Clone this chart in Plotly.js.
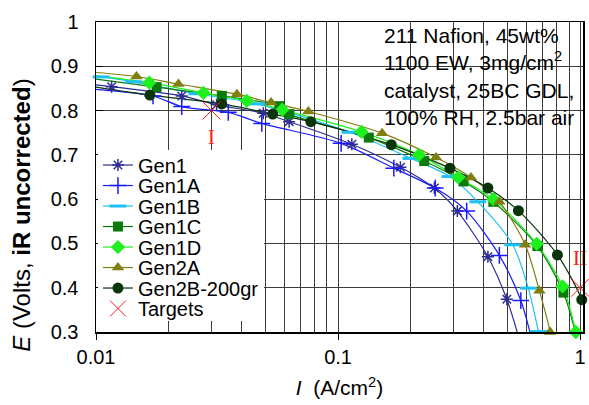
<!DOCTYPE html>
<html>
<head>
<meta charset="utf-8">
<script src="https://cdn.plot.ly/plotly-3.0.1.min.js"></script>
<style>html,body{margin:0;padding:0;background:#fff;}#chart{width:589px;height:405px;}</style>
</head>
<body>
<div id="chart"></div>
<script>
// ---- data (I in A/cm2, E in volts) ----
var seriesNames = ["Gen1", "Gen1A", "Gen1B", "Gen1C", "Gen1D", "Gen2A", "Gen2B-200gr"];

var gen1I  = [0.0116, 0.0226, 0.0315, 0.0491, 0.0628, 0.114, 0.181, 0.250, 0.311, 0.416, 0.498];
var gen1E  = [0.854, 0.833, 0.813, 0.794, 0.775, 0.724, 0.672, 0.625, 0.573, 0.470, 0.374];

var gen1AI = [0.0172, 0.0226, 0.0352, 0.0484, 0.103, 0.170, 0.252, 0.340, 0.464, 0.569];
var gen1AE = [0.833, 0.809, 0.796, 0.771, 0.726, 0.670, 0.625, 0.573, 0.473, 0.371];

var gen1BI = [0.0105, 0.0143, 0.0261, 0.0463, 0.112, 0.200, 0.290, 0.378, 0.527, 0.611, 0.673];
var gen1BE = [0.876, 0.865, 0.838, 0.815, 0.751, 0.692, 0.651, 0.594, 0.497, 0.399, 0.301];

var gen1CI = [0.0178, 0.0331, 0.0572, 0.0629, 0.134, 0.227, 0.330, 0.438, 0.666, 0.853];
var gen1CE = [0.853, 0.833, 0.810, 0.792, 0.739, 0.686, 0.640, 0.594, 0.494, 0.389];

var gen1DI = [0.0166, 0.0278, 0.0420, 0.0588, 0.125, 0.216, 0.314, 0.438, 0.662, 0.846, 0.960];
var gen1DE = [0.863, 0.840, 0.822, 0.802, 0.752, 0.700, 0.649, 0.600, 0.499, 0.403, 0.300];

var gen2AI = [0.0147, 0.0219, 0.0382, 0.0529, 0.0754, 0.152, 0.254, 0.354, 0.464, 0.593, 0.679, 0.752];
var gen2AE = [0.877, 0.860, 0.837, 0.818, 0.798, 0.749, 0.694, 0.649, 0.594, 0.497, 0.393, 0.300];

var gen2BI = [0.0167, 0.0331, 0.0537, 0.0772, 0.166, 0.290, 0.416, 0.556, 0.806, 1.016];
var gen2BE = [0.835, 0.815, 0.792, 0.775, 0.723, 0.670, 0.625, 0.574, 0.474, 0.373];

// fitted-curve ends: value at the left edge (I = 0.01) and the low end
var curveStartI = 0.01;
var curveStartE = [0.858, 0.848, 0.877, 0.871, 0.879, 0.886, 0.853];
var curveEndI   = [0.57, 0.64, 0.70, 0.975, 0.985, 0.77, 1.10];
var curveEndE   = [0.27, 0.27, 0.26, 0.28, 0.26, 0.26, 0.30];

var targetI = [0.03, 1.0];
var targetE = [0.8, 0.4];
var targetLabels = ["I", "II"];

var xTickVals = [0.01, 0.1, 1];
var xTickText = ["0.01", "0.1", "1"];

// ---- styles ----
var dataI = [gen1I, gen1AI, gen1BI, gen1CI, gen1DI, gen2AI, gen2BI];
var dataE = [gen1E, gen1AE, gen1BE, gen1CE, gen1DE, gen2AE, gen2BE];
var styles = [
  {color: "#2E2E91", symbol: "asterisk-open", size: 10, lw: 1.5},
  {color: "#1A1AFF", symbol: "cross-thin-open", size: 12, lw: 1.5},
  {color: "#1EC0F5", symbol: "line-ew-open", size: 12, lw: 3},
  {color: "#0A7A0A", symbol: "square", size: 10, lw: 0},
  {color: "#1EF01E", symbol: "diamond", size: 11, lw: 0},
  {color: "#7F7F10", symbol: "triangle-up", size: 11, lw: 0},
  {color: "#0A340A", symbol: "circle", size: 11, lw: 0}
];

var traces = [];
// fitted curves
for (var i = 0; i < seriesNames.length; i++) {
  traces.push({
    type: "scatter", mode: "lines",
    x: [curveStartI].concat(dataI[i], [curveEndI[i]]),
    y: [curveStartE[i]].concat(dataE[i], [curveEndE[i]]),
    line: {color: styles[i].color, width: 1.2, shape: "spline", smoothing: 0.8},
    showlegend: false, hoverinfo: "skip"
  });
}
// data markers
for (var j = 0; j < seriesNames.length; j++) {
  var st = styles[j];
  traces.push({
    type: "scatter", mode: "markers",
    x: dataI[j], y: dataE[j], cliponaxis: false,
    marker: {symbol: st.symbol, size: st.size, color: st.color,
             line: {color: st.color, width: st.lw}},
    showlegend: false
  });
}
// legend entries
for (var k = 0; k < seriesNames.length; k++) {
  var s2 = styles[k];
  traces.push({
    type: "scatter", mode: "lines+markers", name: seriesNames[k],
    x: [null], y: [null],
    line: {color: s2.color, width: 1.2},
    marker: {symbol: s2.symbol, size: s2.size, color: s2.color,
             line: {color: s2.color, width: s2.lw}}
  });
}
// targets
traces.push({
  type: "scatter", mode: "markers", name: "Targets",
  x: targetI, y: targetE, cliponaxis: false,
  marker: {symbol: "x-thin-open", size: 18, color: "#FF1A1A", line: {color: "#FF1A1A", width: 1}}
});
traces.push({
  type: "scatter", mode: "markers+text", showlegend: false,
  x: targetI, y: targetE, text: targetLabels, cliponaxis: false,
  textposition: ["bottom center", "top center"],
  textfont: {family: "Liberation Serif, Times New Roman, serif", size: 22, color: "#FF1A1A"},
  marker: {size: 26, color: "rgba(0,0,0,0)"}
});

var gridC = "#3c3c3c";
var layout = {
  width: 589, height: 405,
  margin: {l: 96, r: 6, t: 22, b: 73},
  paper_bgcolor: "#fff", plot_bgcolor: "#fff",
  font: {family: "Liberation Sans, Arial, sans-serif", size: 20, color: "#000"},
  showlegend: true,
  legend: {x: 0.004, xanchor: "left", y: 0.587, yanchor: "top",
           bgcolor: "#fff", borderwidth: 0,
           font: {size: 20, color: "#000"}, itemwidth: 30},
  xaxis: {
    type: "log", range: [-2, 0.012],
    tickmode: "array", tickvals: xTickVals, ticktext: xTickText,
    ticks: "outside", ticklen: 6, tickcolor: "#000", tickwidth: 1,
    showline: true, linecolor: "#000", linewidth: 1.5, mirror: true,
    showgrid: true, gridcolor: gridC, gridwidth: 1, zeroline: false,
    minor: {dtick: "D1", showgrid: true, gridcolor: gridC, gridwidth: 1, ticks: ""},
    tickfont: {size: 20, color: "#000"}, ticklabelstandoff: 0,
    title: {text: "<i>I</i>\u00a0\u00a0(A/cm<sup>2</sup>)", font: {size: 21, color: "#000"}, standoff: 14}
  },
  yaxis: {
    range: [0.3, 1], tick0: 0.3, dtick: 0.1,
    ticks: "inside", ticklen: 7, tickcolor: "#000", tickwidth: 1,
    showline: true, linecolor: "#000", linewidth: 1.5, mirror: true,
    showgrid: true, gridcolor: gridC, gridwidth: 1, zeroline: false,
    tickfont: {size: 20, color: "#000"}, ticklabelstandoff: 12
  },
  shapes: [{
    type: "rect", xref: "paper", yref: "paper", x0: 0.589, x1: 1, y0: 0.619, y1: 1,
    fillcolor: "#fff", line: {width: 0}, layer: "between"
  }],
  annotations: [
    {xref: "paper", yref: "paper", x: 0.587, y: 1.0, xanchor: "left", yanchor: "top",
     align: "left", showarrow: false,
     text: "211 Nafion, 45wt%<br>1100 EW, 3mg/cm<sup>2</sup><br>catalyst, 25BC GDL,<br>100% RH, 2.5bar air",
     font: {size: 21, color: "#000"}},
    {xref: "paper", yref: "paper", x: -0.152, y: 0.378, xanchor: "center", yanchor: "middle",
     textangle: -90, showarrow: false,
     text: "<i>E</i> (Volts, <b>iR uncorrected</b>)", font: {size: 24, color: "#000"}}
  ]
};

var gd = document.getElementById("chart");
Plotly.newPlot(gd, traces, layout, {staticPlot: true, displayModeBar: false}).then(function () {
  var items = gd.querySelectorAll(".legend .traces");
  var first = 15, step = 20.5;
  items.forEach(function (el, n) {
    var m = /translate\(\s*([-\d.]+)[\s,]+([-\d.]+)\s*\)/.exec(el.getAttribute("transform") || "");
    var x = m ? parseFloat(m[1]) : 0;
    el.setAttribute("transform", "translate(" + x + "," + (first + n * step) + ")");
  });
  var bg = gd.querySelector(".legend .bg");
  if (bg) bg.setAttribute("height", first + (items.length - 1) * step + 12);
});
</script>
</body>
</html>
